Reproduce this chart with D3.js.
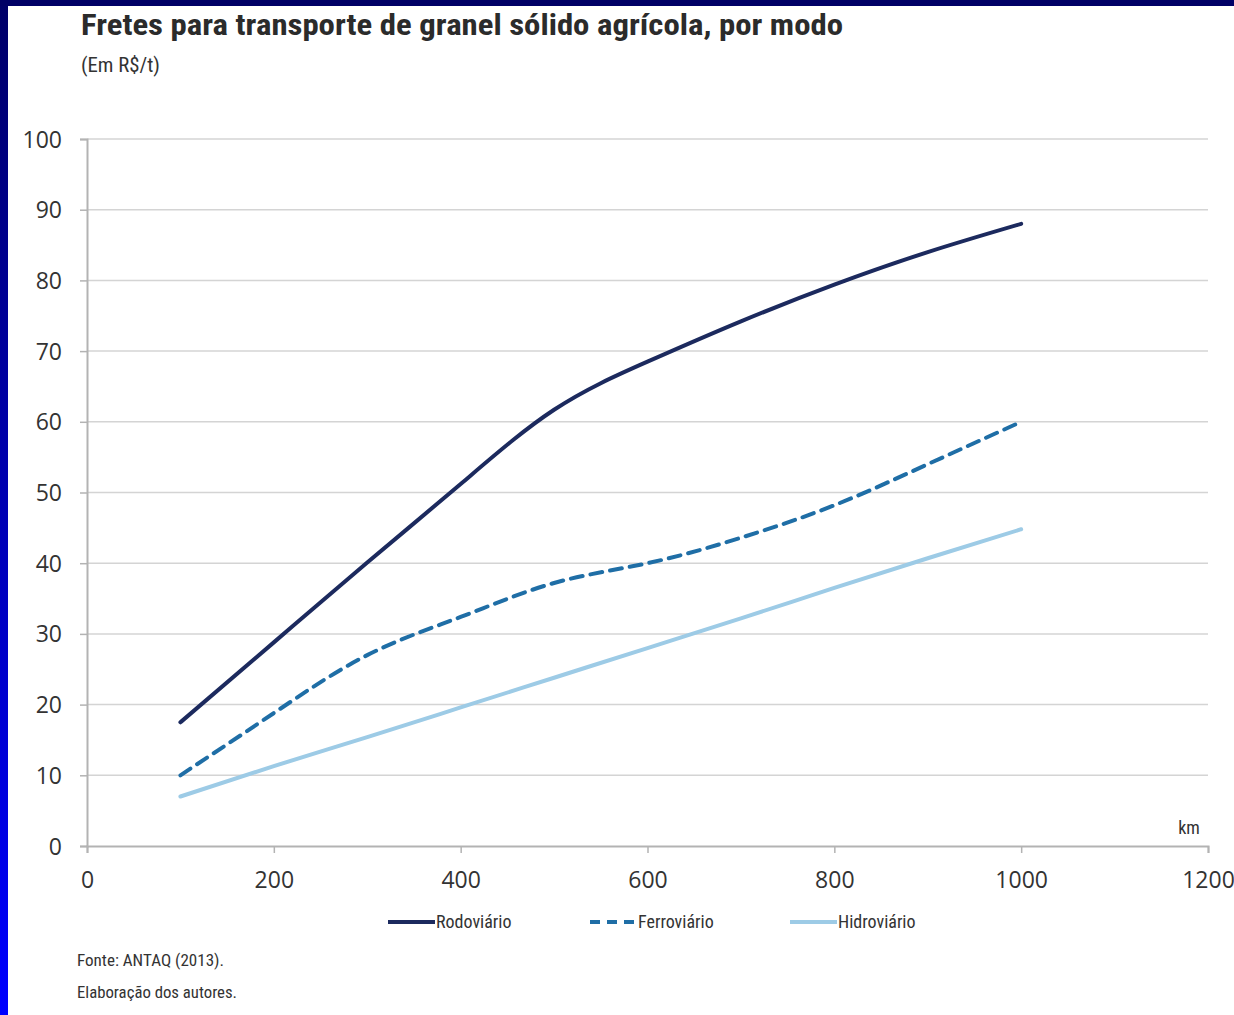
<!DOCTYPE html>
<html>
<head>
<meta charset="utf-8">
<script src="https://cdn.jsdelivr.net/npm/d3@7/dist/d3.min.js"></script>
<style>
  html, body { margin: 0; padding: 0; background: #fff; }
  svg { display: block; }
  .cond { font-family: "Liberation Sans Narrow", "Arial Narrow", "Roboto Condensed", sans-serif; }
  .tick text { font-family: "Open Sans", "Noto Sans", sans-serif; }
</style>
</head>
<body>
<svg id="chart" width="1234" height="1015"></svg>
<script>
// Distance in km and freight cost (R$/t) by transport mode
const distances = [100, 200, 300, 400, 500, 600, 700, 800, 900, 1000];
const rodoviario = [17.5, 28.8, 40.1, 51.2, 61.7, 68.5, 74.2, 79.4, 84.0, 88.0];
const ferroviario = [10.0, 18.8, 27.0, 32.4, 37.2, 40.0, 43.6, 48.2, 54.0, 60.0];
const hidroviario = [7.0, 11.3, 15.4, 19.6, 23.8, 28.0, 32.2, 36.5, 40.7, 44.8];
const seriesNames = ["Rodoviário", "Ferroviário", "Hidroviário"];
const xTicks = [0, 200, 400, 600, 800, 1000, 1200];
const yTicks = [0, 10, 20, 30, 40, 50, 60, 70, 80, 90, 100];

const svg = d3.select("#chart");
const W = 1234, H = 1015;

// frame: navy band on top, blue gradient band on the left
const defs = svg.append("defs");
const grad = defs.append("linearGradient").attr("id", "sideGrad")
  .attr("x1", 0).attr("y1", 0).attr("x2", 0).attr("y2", 1);
grad.append("stop").attr("offset", "0%").attr("stop-color", "#000068");
grad.append("stop").attr("offset", "100%").attr("stop-color", "#0000ff");
svg.append("rect").attr("x", 0).attr("y", 0).attr("width", 8).attr("height", H).attr("fill", "url(#sideGrad)");
svg.append("rect").attr("x", 0).attr("y", 0).attr("width", W).attr("height", 6).attr("fill", "#000066");

const x = d3.scaleLinear().domain([0, 1200]).range([87, 1208]);
const y = d3.scaleLinear().domain([0, 100]).range([846, 139]);

// horizontal gridlines
svg.append("g").selectAll("line").data(yTicks.filter(d => d > 0)).join("line")
  .attr("x1", x(0)).attr("x2", x(1200))
  .attr("y1", d => y(d)).attr("y2", d => y(d))
  .attr("stroke", "#d4d4d4").attr("stroke-width", 1.5);

// y axis
const yAxis = svg.append("g").attr("transform", `translate(${x(0)},0)`)
  .call(d3.axisLeft(y).tickValues(yTicks).tickSize(7).tickPadding(18).tickFormat(d3.format("d")));
yAxis.select(".domain").attr("stroke", "#b3b3b3").attr("stroke-width", 2);
yAxis.selectAll(".tick line").attr("stroke", "#b3b3b3").attr("stroke-width", 1.5);
yAxis.selectAll(".tick text").attr("font-size", 23).attr("fill", "#333").attr("dy", "0.35em");

// x axis
const xAxis = svg.append("g").attr("transform", `translate(0,${y(0)})`)
  .call(d3.axisBottom(x).tickValues(xTicks).tickSize(7).tickPadding(19).tickFormat(d3.format("d")));
xAxis.select(".domain").attr("stroke", "#b3b3b3").attr("stroke-width", 2);
xAxis.selectAll(".tick line").attr("stroke", "#b3b3b3").attr("stroke-width", 1.5);
xAxis.selectAll(".tick text").attr("font-size", 23).attr("fill", "#333");

// series lines
const styles = [
  { color: "#1c2a5e", dash: null },
  { color: "#1f6ea6", dash: "12,8" },
  { color: "#9dcbe6", dash: null }
];
const values = [rodoviario, ferroviario, hidroviario];
const line = d3.line().x(d => x(d[0])).y(d => y(d[1])).curve(d3.curveNatural);

values.forEach((vals, i) => {
  svg.append("path")
    .datum(distances.map((d, j) => [d, vals[j]]))
    .attr("d", line)
    .attr("fill", "none")
    .attr("stroke", styles[i].color)
    .attr("stroke-width", 4)
    .attr("stroke-linecap", "round")
    .attr("stroke-dasharray", styles[i].dash);
});

// unit label on the x axis
svg.append("text").attr("class", "cond").attr("x", 1189).attr("y", 834)
  .attr("text-anchor", "middle").attr("font-size", 18).attr("fill", "#333").text("km");

// legend
const legendX = [388, 590, 790];
seriesNames.forEach((name, i) => {
  const g = svg.append("g").attr("transform", `translate(${legendX[i]},922)`);
  g.append("line").attr("x1", 0).attr("x2", 47).attr("y1", 0).attr("y2", 0)
    .attr("stroke", styles[i].color).attr("stroke-width", 4)
    .attr("stroke-dasharray", styles[i].dash ? "10,7" : null);
  g.append("text").attr("class", "cond").attr("x", 48).attr("y", 6)
    .attr("font-size", 18).attr("fill", "#333").text(name);
});

// titles
svg.append("text").attr("class", "cond").attr("x", 81).attr("y", 35)
  .attr("font-size", 30).attr("font-weight", "bold").attr("fill", "#2b2b2b")
  .attr("textLength", 762).attr("lengthAdjust", "spacingAndGlyphs")
  .text("Fretes para transporte de granel sólido agrícola, por modo");
svg.append("text").attr("class", "cond").attr("x", 81).attr("y", 72)
  .attr("font-size", 20).attr("fill", "#333")
  .attr("textLength", 79).attr("lengthAdjust", "spacingAndGlyphs").text("(Em R$/t)");

// source notes
svg.append("text").attr("class", "cond").attr("x", 77).attr("y", 966)
  .attr("font-size", 17).attr("fill", "#333")
  .attr("textLength", 147).attr("lengthAdjust", "spacingAndGlyphs").text("Fonte: ANTAQ (2013).");
svg.append("text").attr("class", "cond").attr("x", 77).attr("y", 998)
  .attr("font-size", 17).attr("fill", "#333")
  .attr("textLength", 160).attr("lengthAdjust", "spacingAndGlyphs").text("Elaboração dos autores.");
</script>
</body>
</html>
